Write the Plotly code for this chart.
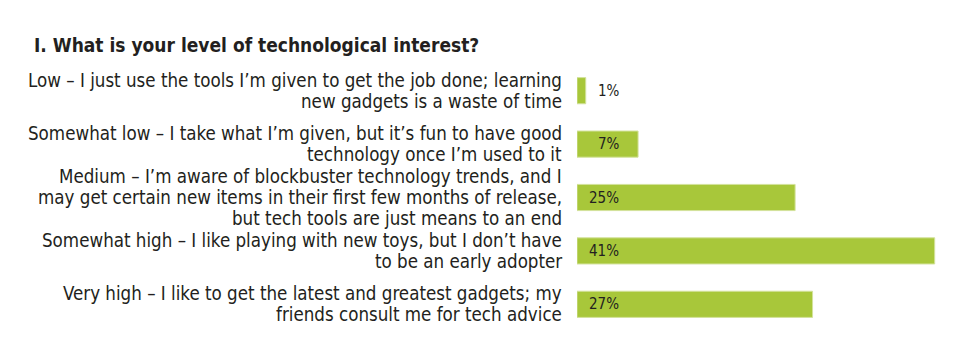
import plotly.graph_objects as go

categories = [
    "Low – I just use the tools I’m given to get the job done; learning\nnew gadgets is a waste of time",
    "Somewhat low – I take what I’m given, but it’s fun to have good\ntechnology once I’m used to it",
    "Medium – I’m aware of blockbuster technology trends, and I\nmay get certain new items in their first few months of release,\nbut tech tools are just means to an end",
    "Somewhat high – I like playing with new toys, but I don’t have\nto be an early adopter",
    "Very high – I like to get the latest and greatest gadgets; my\nfriends consult me for tech advice",
]
values = [1, 7, 25, 41, 27]
value_labels = ["1%", "7%", "25%", "41%", "27%"]
title = "I. What is your level of technological interest?"

FONT = "DejaVu Sans Condensed, Liberation Sans Narrow, sans-serif"
GREEN = "#A8C73A"
TEXT = "#231F20"

ypos = list(range(len(categories)))

fig = go.Figure()
fig.add_trace(go.Bar(
    x=values, y=ypos, orientation="h",
    marker=dict(color=GREEN, line=dict(color="#D3E29C", width=1)),
    hoverinfo="skip",
))

ann = []
LINE = 21
for i, lab in enumerate(categories):
    lines = lab.split("\n")
    n = len(lines)
    for j, ln in enumerate(lines):
        off = ((n - 1) / 2 - j) * LINE
        ann.append(dict(
            xref="paper", yref="y", x=0, y=i, xanchor="right", yanchor="middle",
            xshift=-13, yshift=off, text=ln, showarrow=False,
            font=dict(family=FONT, size=18.6, color=TEXT),
        ))
for i, (v, t) in enumerate(zip(values, value_labels)):
    xp = 2.15 if v < 10 else 1.2
    ann.append(dict(xref="x", yref="y", x=xp, y=i, xanchor="left", yanchor="middle",
                    text=t, showarrow=False, font=dict(family=FONT, size=15, color=TEXT)))

fig.update_layout(
    width=952, height=354,
    margin=dict(l=569, r=0, t=56, b=31),
    paper_bgcolor="white", plot_bgcolor="white",
    showlegend=False,
    bargap=0.51,
    title=dict(text="<b>" + title + "</b>", x=26 / 952, xanchor="left", xref="container",
               y=1 - 37 / 354, yanchor="middle", yref="container",
               font=dict(family=FONT, size=19, color=TEXT)),
    xaxis=dict(range=[0, 43.9], visible=False, fixedrange=True),
    yaxis=dict(range=[len(categories) - 0.5, -0.5], visible=False, fixedrange=True),
    annotations=ann,
)

fig.write_html("out.html", config={"displayModeBar": False})
